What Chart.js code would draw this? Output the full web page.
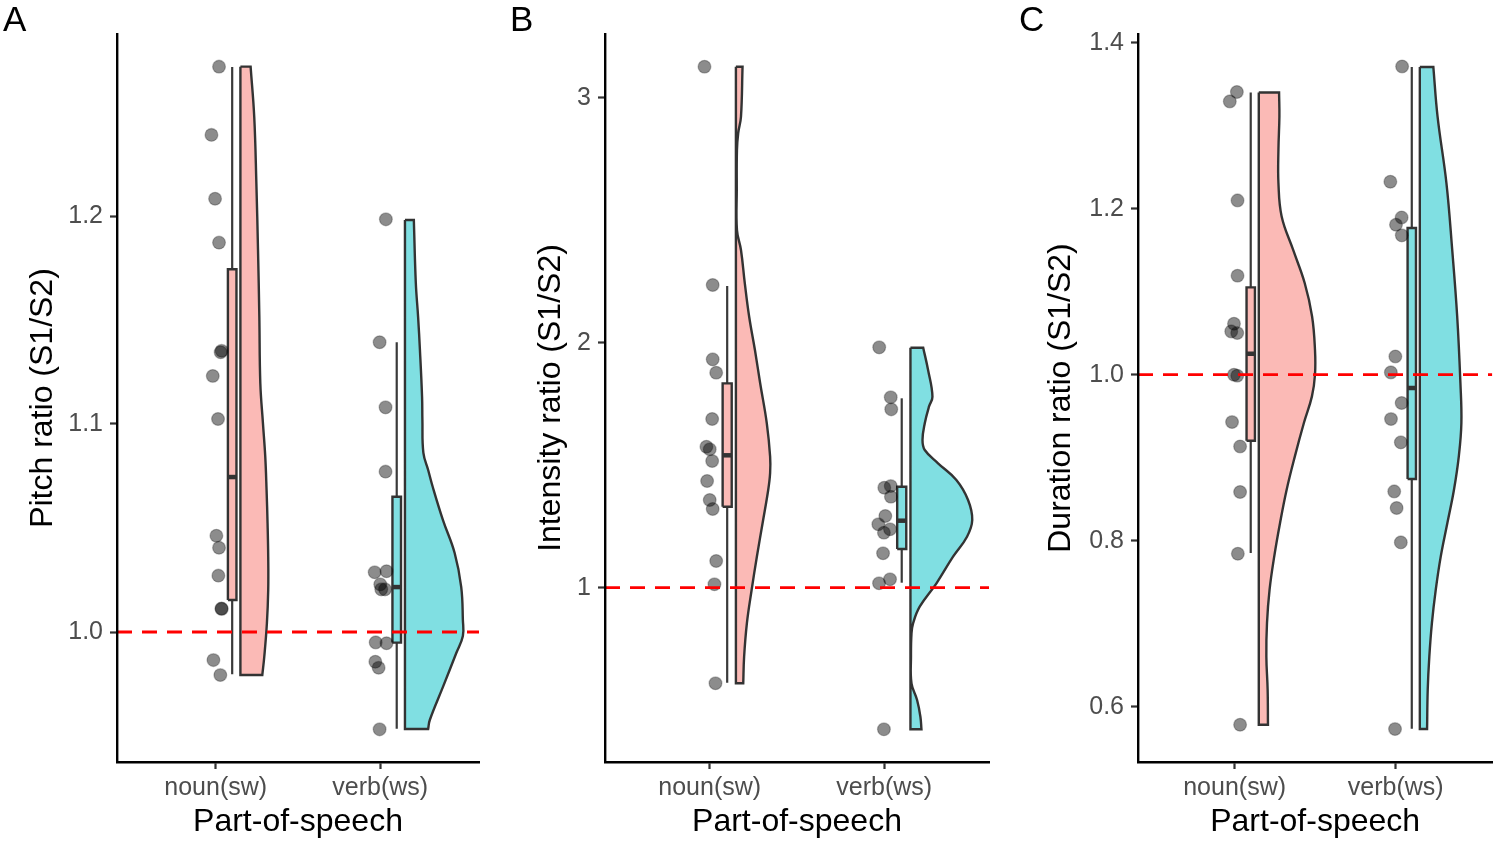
<!DOCTYPE html>
<html>
<head>
<meta charset="utf-8">
<script src="https://cdn.jsdelivr.net/npm/chart.js@4.4.1/dist/chart.umd.min.js"></script>
<style>
  html, body { margin: 0; padding: 0; background: #ffffff; }
  body { position: relative; width: 1500px; height: 841px; overflow: hidden; font-family: "Liberation Sans", Arial, sans-serif; }
  canvas { position: absolute; top: 0; }
  .lab { position: absolute; top: 1px; font-size: 35px; line-height: 35px; color: #000; font-family: "Liberation Sans", Arial, sans-serif; }
</style>
</head>
<body>
<canvas id="cA" width="500" height="841" style="left:0px"></canvas>
<canvas id="cB" width="500" height="841" style="left:500px"></canvas>
<canvas id="cC" width="500" height="841" style="left:1000px"></canvas>
<div class="lab" style="left:3px">A</div>
<div class="lab" style="left:510px">B</div>
<div class="lab" style="left:1019px">C</div>
<script>
// ---------------- data ----------------
const categories = ["noun(sw)", "verb(ws)"];
const xAxisTitle = "Part-of-speech";

// Panel A: pitch
const pitchTitle = "Pitch ratio (S1/S2)";
const pitchTicks = [1.0, 1.1, 1.2];
const pitchTickLabels = ["1.0", "1.1", "1.2"];
const pitchRange = [0.9375, 1.2875];
const pitchNoun = [1.2718, 1.239, 1.2083, 1.1872, 1.1352, 1.1345, 1.1231, 1.1024, 1.0463, 1.0405, 1.0271, 1.0111, 1.0113, 0.9865, 0.9793];
const pitchNounJitter = [0.020, -0.026, -0.004, 0.020, 0.036, 0.030, -0.018, 0.014, 0.004, 0.020, 0.016, 0.036, 0.035, -0.014, 0.028];
const pitchVerb = [1.1984, 1.1393, 1.1080, 1.0771, 1.0287, 1.0292, 1.0229, 1.0205, 1.0205, 0.9950, 0.9946, 0.9857, 0.9828, 0.9532];
const pitchVerbJitter = [0.034, -0.004, 0.032, 0.032, -0.034, 0.038, 0.000, 0.006, 0.029, -0.028, 0.038, -0.030, -0.010, -0.004];
const pitchNounBox = [0.9797, 1.0154, 1.0745, 1.1744, 1.2716];
const pitchVerbBox = [0.9535, 0.9949, 1.0216, 1.0650, 1.1393];
const pitchNounViolinY = [1.2718, 1.2477, 1.2157, 1.1837, 1.1516, 1.1196, 1.1003, 1.0843, 1.0683, 1.0523, 1.0362, 1.0202, 1.0042, 0.9881, 0.9793];
const pitchNounViolinW = [0.062, 0.084, 0.097, 0.107, 0.115, 0.121, 0.137, 0.151, 0.159, 0.165, 0.169, 0.169, 0.161, 0.145, 0.133];
const pitchVerbViolinY = [1.1981, 1.1678, 1.1514, 1.1356, 1.1130, 1.1019, 1.0861, 1.0779, 1.0697, 1.0538, 1.0380, 1.0216, 1.0058, 0.9981, 0.9899, 0.9736, 0.9577, 0.9534];
const pitchVerbViolinW = [0.054, 0.066, 0.080, 0.091, 0.104, 0.106, 0.112, 0.141, 0.169, 0.231, 0.302, 0.342, 0.352, 0.352, 0.312, 0.231, 0.151, 0.141];

// Panel B: intensity
const intensityTitle = "Intensity ratio (S1/S2)";
const intensityTicks = [1, 2, 3];
const intensityTickLabels = ["1", "2", "3"];
const intensityRange = [0.2886, 3.26];
const intensityNoun = [3.1265, 2.2355, 1.932, 1.8776, 1.6886, 1.5755, 1.565, 1.517, 1.4355, 1.358, 1.3212, 1.109, 1.0139, 0.6098];
const intensityNounJitter = [-0.030, 0.017, 0.017, 0.037, 0.014, -0.019, 0.000, 0.014, -0.015, 0.000, 0.017, 0.037, 0.027, 0.033];
const intensityVerb = [1.981, 1.777, 1.728, 1.415, 1.408, 1.3714, 1.2927, 1.2588, 1.2384, 1.2245, 1.1404, 1.0343, 1.018, 0.422];
const intensityVerbJitter = [-0.029, 0.037, 0.040, 0.037, 0.000, 0.038, 0.006, -0.034, 0.033, -0.002, -0.007, 0.033, -0.030, -0.002];
const intensityNounBox = [0.6122, 1.3306, 1.5404, 1.834, 2.2314];
const intensityVerbBox = [1.0204, 1.158, 1.2735, 1.4122, 1.773];
const intensityNounViolinY = [3.1265, 2.9224, 2.8547, 2.7865, 2.6233, 2.4600, 2.3784, 2.2424, 2.1061, 1.9702, 1.8343, 1.6710, 1.5347, 1.4682, 1.3988, 1.2641, 1.1265, 0.9906, 0.8559, 0.7184, 0.6098];
const intensityNounViolinW = [0.038, 0.029, 0.013, 0.006, 0.005, 0.006, 0.029, 0.051, 0.076, 0.109, 0.139, 0.177, 0.196, 0.196, 0.185, 0.153, 0.120, 0.090, 0.063, 0.047, 0.042];
const intensityVerbViolinY = [1.9796, 1.8886, 1.7796, 1.7388, 1.6710, 1.6029, 1.5620, 1.5078, 1.4396, 1.3580, 1.2763, 1.2082, 1.1265, 1.0180, 0.9224, 0.8547, 0.8139, 0.7184, 0.6098, 0.5416, 0.4735, 0.4220];
const intensityVerbViolinW = [0.073, 0.101, 0.126, 0.106, 0.082, 0.069, 0.082, 0.158, 0.263, 0.330, 0.354, 0.324, 0.244, 0.149, 0.053, 0.015, 0.006, 0.003, 0.006, 0.038, 0.057, 0.063];

// Panel C: duration
const durationTitle = "Duration ratio (S1/S2)";
const durationTicks = [0.6, 0.8, 1.0, 1.2, 1.4];
const durationTickLabels = ["0.6", "0.8", "1.0", "1.2", "1.4"];
const durationRange = [0.5334, 1.4105];
const durationNoun = [1.3406, 1.3293, 1.21, 1.1193, 1.0614, 1.0522, 1.0502, 1.0, 0.9988, 0.943, 0.9136, 0.8587, 0.7843, 0.5783];
const durationNounJitter = [0.014, -0.030, 0.018, 0.018, -0.004, -0.021, 0.016, -0.004, 0.016, -0.016, 0.034, 0.034, 0.020, 0.034];
const durationVerb = [1.3714, 1.2325, 1.1895, 1.1807, 1.1679, 1.022, 1.0028, 0.9659, 0.9466, 0.9185, 0.8594, 0.8394, 0.798, 0.5731];
const durationVerbJitter = [0.040, -0.033, 0.037, 0.002, 0.038, -0.002, -0.030, 0.037, -0.029, 0.032, -0.009, 0.006, 0.032, -0.004];
const durationNounBox = [0.7852, 0.9205, 1.0253, 1.1052, 1.3401];
const durationVerbBox = [0.5735, 0.8743, 0.984, 1.1767, 1.3707];
const durationNounViolinY = [1.3401, 1.3112, 1.2711, 1.2310, 1.1907, 1.1506, 1.1105, 1.0702, 1.0301, 1.0000, 0.9739, 0.9418, 0.9016, 0.8614, 0.8213, 0.7811, 0.7410, 0.7008, 0.6606, 0.6205, 0.5783];
const durationNounViolinW = [0.126, 0.128, 0.122, 0.122, 0.142, 0.213, 0.285, 0.331, 0.349, 0.349, 0.330, 0.280, 0.224, 0.173, 0.132, 0.096, 0.067, 0.051, 0.047, 0.055, 0.057];
const durationVerbViolinY = [1.3707, 1.3112, 1.2310, 1.1506, 1.0702, 0.9900, 0.9418, 0.9016, 0.8614, 0.8213, 0.7811, 0.7410, 0.7008, 0.6606, 0.6205, 0.5731];
const durationVerbViolinW = [0.084, 0.110, 0.165, 0.201, 0.232, 0.252, 0.258, 0.242, 0.212, 0.171, 0.130, 0.099, 0.075, 0.059, 0.049, 0.045];

const referenceLine = 1;

// ---------------- style / layout ----------------
const FONT = "'Liberation Sans', Arial, Helvetica, sans-serif";
const OUTLINE = "#333333";
const FILLS = ["#FBBAB6", "#80DFE2"];
const X_MIN = 0.4, X_MAX = 2.6;
const BOX_OFFSET = 0.10, BOX_HALF = 0.026, VIOLIN_OFFSET = 0.15;
const LW = 2.4;

Chart.defaults.font.family = FONT;

function violinShape(pos, vy, vw) {
  const base = pos + VIOLIN_OFFSET, n = vy.length;
  const pts = [{x: base, y: vy[0]}, {x: base + vw[0], y: vy[0]}, {x: base + vw[0], y: vy[0]}];
  for (let k = 1; k < n - 1; k++) pts.push({x: base + vw[k], y: vy[k]});
  pts.push({x: base + vw[n - 1], y: vy[n - 1]}, {x: base + vw[n - 1], y: vy[n - 1]},
           {x: base, y: vy[n - 1]}, {x: base, y: vy[n - 1]},
           {x: base, y: vy[0]}, {x: base, y: vy[0]});
  return pts;
}

function buildPanel(id, p) {
  const datasets = [];
  datasets.push({
    type: "line", data: [{x: X_MIN, y: referenceLine}, {x: X_MAX, y: referenceLine}],
    borderColor: "#FF0000", borderWidth: 2.8, borderDash: [15, 10], pointRadius: 0, fill: false, order: 0
  });
  p.groups.forEach((g, i) => {
    const pos = i + 1;
    datasets.push({
      type: "scatter", data: g.values.map((v, k) => ({x: pos + g.jitter[k], y: v})),
      backgroundColor: "rgba(0,0,0,0.45)", borderColor: "rgba(0,0,0,0.25)", borderWidth: 1.3,
      pointRadius: 6.4, order: 1
    });
    const [mn, q1, md, q3, mx] = g.box;
    const bx = pos + BOX_OFFSET;
    datasets.push({
      type: "line", data: [{x: bx - BOX_HALF, y: md}, {x: bx + BOX_HALF, y: md}],
      borderColor: OUTLINE, borderWidth: 4.5, pointRadius: 0, fill: false, order: 2
    });
    datasets.push({
      type: "line",
      data: [{x: bx - BOX_HALF, y: q1}, {x: bx + BOX_HALF, y: q1}, {x: bx + BOX_HALF, y: q3}, {x: bx - BOX_HALF, y: q3}, {x: bx - BOX_HALF, y: q1}],
      borderColor: OUTLINE, borderWidth: LW, backgroundColor: FILLS[i], fill: "shape", pointRadius: 0, tension: 0, order: 3
    });
    datasets.push({
      type: "line", data: [{x: bx, y: mn}, {x: bx, y: mx}],
      borderColor: "#3a3a3a", borderWidth: 2.2, pointRadius: 0, fill: false, order: 4
    });
    datasets.push({
      type: "line", data: violinShape(pos, g.vy, g.vw),
      borderColor: OUTLINE, borderWidth: LW, backgroundColor: FILLS[i], fill: "shape",
      pointRadius: 0, tension: 0.4, order: 5
    });
  });

  new Chart(document.getElementById(id), {
    type: "line",
    data: {datasets},
    options: {
      responsive: false, animation: false, events: [],
      layout: {padding: {left: 0, right: p.padRight, top: 34, bottom: 0}},
      plugins: {legend: {display: false}, tooltip: {enabled: false}},
      scales: {
        x: {
          type: "linear", min: X_MIN, max: X_MAX,
          afterBuildTicks: s => { s.ticks = categories.map((c, i) => ({value: i + 1})); },
          afterFit: s => { s.height = 79; },
          ticks: {callback: (v, i) => categories[i], font: {size: 25}, color: "#4D4D4D", padding: 4, maxRotation: 0, autoSkip: false},
          grid: {drawOnChartArea: false, drawTicks: true, tickLength: 7, tickColor: OUTLINE, tickWidth: 2.2},
          border: {display: true, color: "#000000", width: 2.4, z: 1},
          title: {display: true, text: xAxisTitle, font: {size: 32}, color: "#000000", padding: {top: 0, bottom: 0}}
        },
        y: {
          type: "linear", min: p.range[0], max: p.range[1],
          afterBuildTicks: s => { s.ticks = p.ticks.map(v => ({value: v})); },
          afterFit: s => { s.width = p.axisLeft; },
          ticks: {callback: (v, i) => p.tickLabels[i], font: {size: 25}, color: "#4D4D4D", padding: 7, autoSkip: false},
          grid: {drawOnChartArea: false, drawTicks: true, tickLength: 7, tickColor: OUTLINE, tickWidth: 2.2},
          border: {display: true, color: "#000000", width: 2.4, z: 1},
          title: {display: true, text: p.title, font: {size: 32}, color: "#000000", padding: {top: p.titlePad, bottom: 0}}
        }
      }
    }
  });
}

buildPanel("cA", {
  title: pitchTitle, ticks: pitchTicks, tickLabels: pitchTickLabels, range: pitchRange,
  axisLeft: 117, padRight: 21, titlePad: 24,
  groups: [
    {values: pitchNoun, jitter: pitchNounJitter, box: pitchNounBox, vy: pitchNounViolinY, vw: pitchNounViolinW},
    {values: pitchVerb, jitter: pitchVerbJitter, box: pitchVerbBox, vy: pitchVerbViolinY, vw: pitchVerbViolinW}
  ]
});
buildPanel("cB", {
  title: intensityTitle, ticks: intensityTicks, tickLabels: intensityTickLabels, range: intensityRange,
  axisLeft: 105, padRight: 11, titlePad: 32,
  groups: [
    {values: intensityNoun, jitter: intensityNounJitter, box: intensityNounBox, vy: intensityNounViolinY, vw: intensityNounViolinW},
    {values: intensityVerb, jitter: intensityVerbJitter, box: intensityVerbBox, vy: intensityVerbViolinY, vw: intensityVerbViolinW}
  ]
});
buildPanel("cC", {
  title: durationTitle, ticks: durationTicks, tickLabels: durationTickLabels, range: durationRange,
  axisLeft: 138, padRight: 1, titlePad: 42,
  groups: [
    {values: durationNoun, jitter: durationNounJitter, box: durationNounBox, vy: durationNounViolinY, vw: durationNounViolinW},
    {values: durationVerb, jitter: durationVerbJitter, box: durationVerbBox, vy: durationVerbViolinY, vw: durationVerbViolinW}
  ]
});
</script>
</body>
</html>
